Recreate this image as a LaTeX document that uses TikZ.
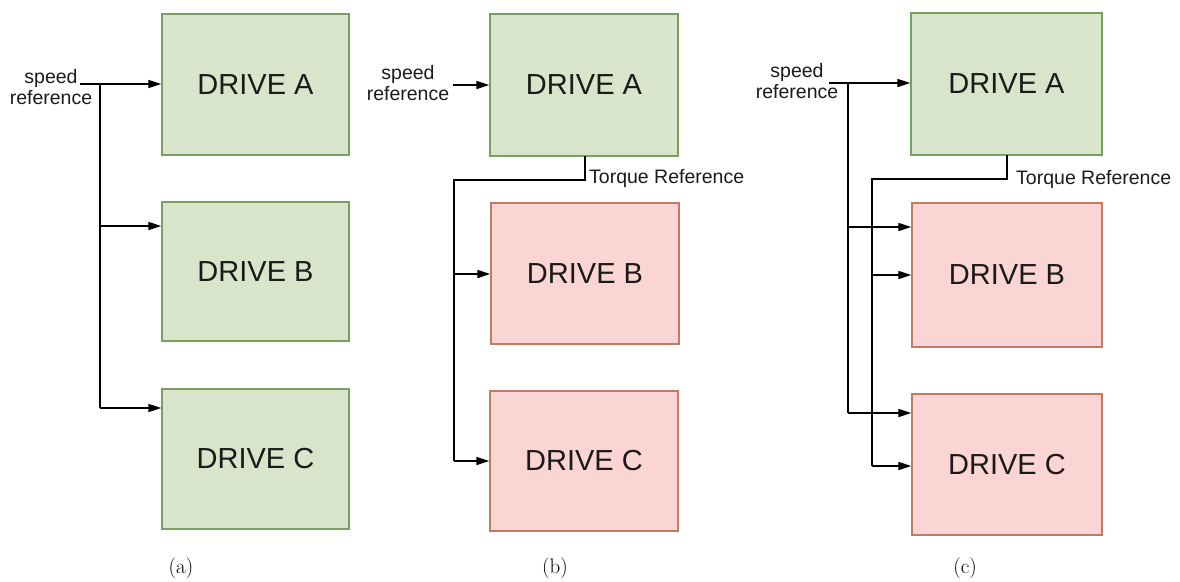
\documentclass[tikz,border=0pt]{standalone}
\usepackage{fontspec}
\setsansfont{Liberation Sans}
\usetikzlibrary{arrows.meta}
\definecolor{gfill}{HTML}{D9E5CA}
\definecolor{gdraw}{HTML}{78A060}
\definecolor{rfill}{HTML}{FBD5D3}
\definecolor{rdraw}{HTML}{C27A62}
\definecolor{txt}{HTML}{1A1A1A}
\tikzset{
  drv/.style={draw, line width=1.3pt, inner sep=0pt, text=txt,
    font=\sffamily\fontsize{29}{32}\selectfont},
  gbox/.style={drv, fill=gfill, draw=gdraw},
  rbox/.style={drv, fill=rfill, draw=rdraw},
  lbl/.style={inner sep=0pt, text=txt, align=center,
    font=\sffamily\fontsize{19.5}{21}\selectfont},
  captxt/.style={inner sep=0pt, text=black, font=\fontsize{21}{24}\selectfont},
  wire/.style={draw=black, line width=1.4pt},
  arr/.style={wire, -{Triangle[length=13pt,width=8pt]}}
}
\begin{document}
\begin{tikzpicture}[x=1pt,y=-1pt]
\useasboundingbox (0,0) rectangle (1180,581);
% ---------- (a)
\node[gbox, minimum width=187pt, minimum height=141pt] (aA) at (255.5,84.5) {DRIVE A};
\node[gbox, minimum width=187pt, minimum height=139pt] (aB) at (255.5,271.5) {DRIVE B};
\node[gbox, minimum width=187pt, minimum height=140pt] (aC) at (255.5,459) {DRIVE C};
\node[lbl] (sa) at (51,87) {speed\\reference};
\coordinate (sa0) at (80,84);
\coordinate (ja0) at (100,84);
\coordinate (ja1) at (100,226);
\coordinate (ja2) at (100,408);
\draw[arr] (sa0) -- (sa0 -| aA.west);
\draw[wire] (ja0) -- (ja2);
\draw[arr] (ja1) -- (ja1 -| aB.west);
\draw[arr] (ja2) -- (ja2 -| aC.west);
\node[captxt] (capa) at (181,568) {(a)};
% ---------- (b)
\node[gbox, minimum width=188pt, minimum height=142pt] (bA) at (584,85) {DRIVE A};
\node[rbox, minimum width=188pt, minimum height=141pt] (bB) at (585,273.5) {DRIVE B};
\node[rbox, minimum width=188pt, minimum height=140pt] (bC) at (584,461) {DRIVE C};
\node[lbl] (sb) at (408,83) {speed\\reference};
\coordinate (sb0) at (453,85);
\draw[arr] (sb0) -- (sb0 -| bA.west);
\coordinate (tb0) at (585,156);
\coordinate (tb1) at (585,180);
\coordinate (tb2) at (454,180);
\coordinate (tb3) at (454,274);
\coordinate (tb4) at (454,461);
\draw[wire] (tb0) -- (tb1) -- (tb2) -- (tb4);
\draw[arr] (tb3) -- (tb3 -| bB.west);
\draw[arr] (tb4) -- (tb4 -| bC.west);
\node[lbl, anchor=west] (tqb) at (589,178) {Torque Reference};
\node[captxt] (capb) at (555,568) {(b)};
% ---------- (c)
\node[gbox, minimum width=191pt, minimum height=142pt] (cA) at (1006.5,84) {DRIVE A};
\node[rbox, minimum width=190pt, minimum height=144pt] (cB) at (1007,275) {DRIVE B};
\node[rbox, minimum width=190pt, minimum height=141pt] (cC) at (1007,464.5) {DRIVE C};
\node[lbl] (sc) at (797,81) {speed\\reference};
\coordinate (sc0) at (829,83);
\coordinate (jc0) at (848,83);
\coordinate (jc1) at (848,227);
\coordinate (jc2) at (848,413);
\draw[arr] (sc0) -- (sc0 -| cA.west);
\draw[wire] (jc0) -- (jc2);
\draw[arr] (jc1) -- (jc1 -| cB.west);
\draw[arr] (jc2) -- (jc2 -| cC.west);
\coordinate (tc0) at (1007,155);
\coordinate (tc1) at (1007,179);
\coordinate (tc2) at (872,179);
\coordinate (tc3) at (872,275);
\coordinate (tc4) at (872,466);
\draw[wire] (tc0) -- (tc1) -- (tc2) -- (tc4);
\draw[arr] (tc3) -- (tc3 -| cB.west);
\draw[arr] (tc4) -- (tc4 -| cC.west);
\node[lbl, anchor=west] (tqc) at (1016,179) {Torque Reference};
\node[captxt] (capc) at (965,568) {(c)};
\end{tikzpicture}
\end{document}
